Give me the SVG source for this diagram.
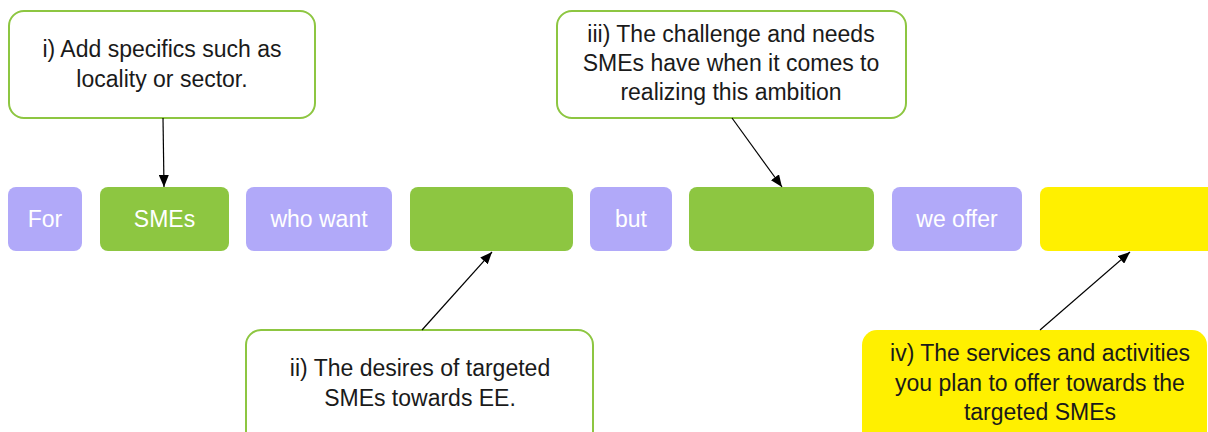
<svg xmlns="http://www.w3.org/2000/svg" width="1208" height="432" viewBox="0 0 1208 432">
<style>
.purple{fill:#B1A9F9}
.green{fill:#8DC641}
.yellow{fill:#FFF000}
.rowtxt{font-family:"Liberation Sans",Arial,sans-serif;font-size:23px;fill:#FFFFFF;text-anchor:middle}
.callout{fill:#FFFFFF;stroke:#8DC641;stroke-width:2}
.ctxt{font-family:"Liberation Sans",Arial,sans-serif;font-size:23px;fill:#1A1A1A;text-anchor:middle}
.conn{stroke:#000000;stroke-width:1.2;fill:none;marker-end:url(#arr)}
</style>
<defs>
<marker id="arr" viewBox="0 0 12 10" refX="12" refY="5" markerWidth="12" markerHeight="10" markerUnits="userSpaceOnUse" orient="auto">
<path d="M0,0 L12,5 L0,10 z" fill="#000000"/>
</marker>
</defs>
<rect width="1208" height="432" fill="#FFFFFF"/>
<g id="row-for"><rect class="purple" x="8" y="187" width="74" height="64" rx="8"/><text class="rowtxt" x="45" y="227">For</text></g>
<g id="row-smes"><rect class="green" x="100" y="187" width="129" height="64" rx="8"/><text class="rowtxt" x="164.5" y="227">SMEs</text></g>
<g id="row-whowant"><rect class="purple" x="246" y="187" width="146" height="64" rx="8"/><text class="rowtxt" x="319" y="227">who want</text></g>
<g id="row-desire"><rect class="green" x="410" y="187" width="163" height="64" rx="8"/></g>
<g id="row-but"><rect class="purple" x="590" y="187" width="82" height="64" rx="8"/><text class="rowtxt" x="631" y="227">but</text></g>
<g id="row-challenge"><rect class="green" x="689" y="187" width="185" height="64" rx="8"/></g>
<g id="row-weoffer"><rect class="purple" x="892" y="187" width="130" height="64" rx="8"/><text class="rowtxt" x="957" y="227">we offer</text></g>
<g id="row-offer"><rect class="yellow" x="1040" y="187" width="190" height="64" rx="8"/></g>

<g id="callout-i"><rect class="callout" x="9" y="11" width="306" height="107" rx="15"/>
<text class="ctxt" x="162" y="57">i) Add specifics such as</text>
<text class="ctxt" x="162" y="87">locality or sector.</text></g>
<g id="callout-iii"><rect class="callout" x="557" y="11" width="349" height="107" rx="15"/>
<text class="ctxt" x="731" y="42">iii) The challenge and needs</text>
<text class="ctxt" x="731" y="71">SMEs have when it comes to</text>
<text class="ctxt" x="731" y="100">realizing this ambition</text></g>
<g id="callout-ii"><rect class="callout" x="246" y="330" width="347" height="130" rx="15"/>
<text class="ctxt" x="420" y="376">ii) The desires of targeted</text>
<text class="ctxt" x="420" y="406">SMEs towards EE.</text></g>
<g id="callout-iv"><rect class="yellow" x="862" y="330" width="345" height="130" rx="15"/>
<text class="ctxt" x="1040" y="361">iv) The services and activities</text>
<text class="ctxt" x="1040" y="391">you plan to offer towards the</text>
<text class="ctxt" x="1040" y="420">targeted SMEs</text></g>

<g id="connectors">
<line class="conn" x1="163" y1="118" x2="164" y2="187"/>
<line class="conn" x1="732" y1="118" x2="782" y2="187"/>
<line class="conn" x1="422" y1="330" x2="492" y2="252"/>
<line class="conn" x1="1040" y1="330" x2="1130" y2="252"/>
</g>
</svg>
